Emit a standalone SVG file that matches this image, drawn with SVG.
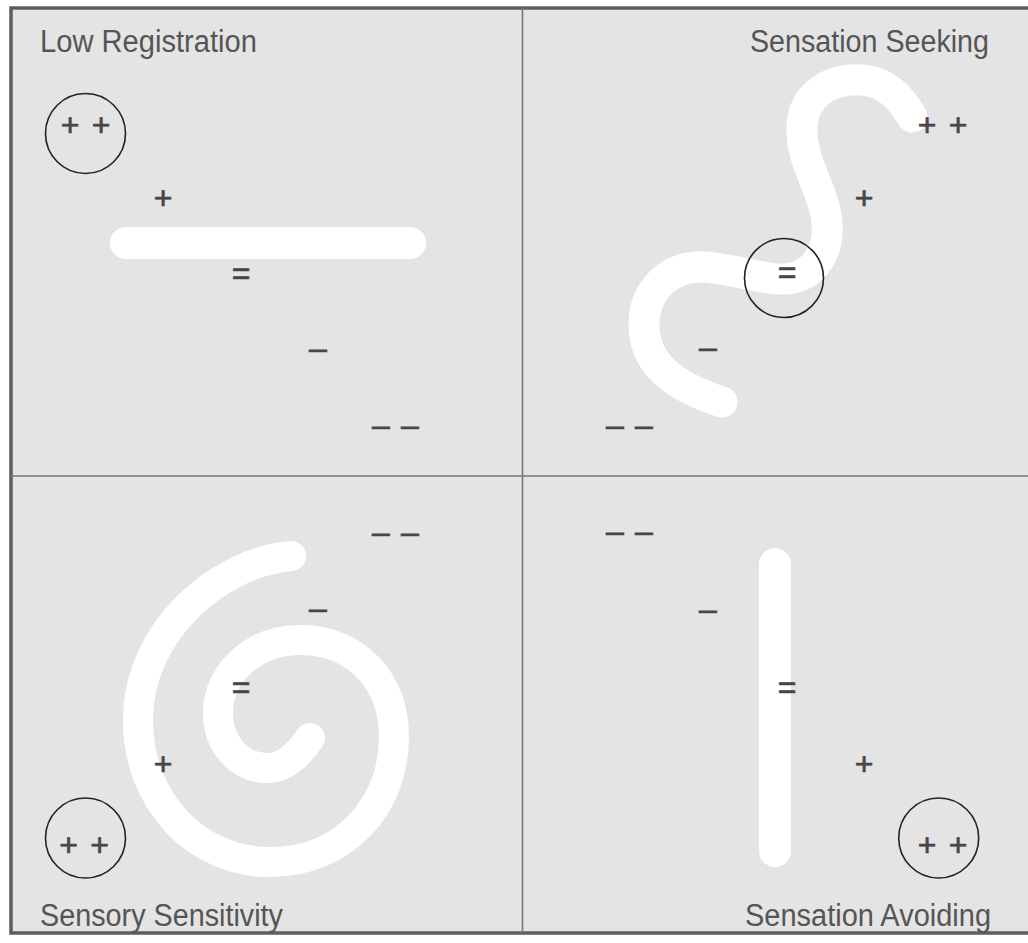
<svg xmlns="http://www.w3.org/2000/svg" width="1028" height="943" viewBox="0 0 1028 943">
  <style>
    .label { font-family: "Liberation Sans", Arial, sans-serif; font-size: 31px; fill: #555; }
    .sym { font-family: "Liberation Sans", Arial, sans-serif; font-size: 32px; fill: #474747; stroke: #474747; stroke-width: 0.7px; text-anchor: middle; }
    .pair { word-spacing: 3.4px; }
    .dpair { word-spacing: 2.3px; }
    .band { fill: none; stroke: #ffffff; stroke-linecap: round; stroke-linejoin: round; }
    .ring { fill: none; stroke: #222; stroke-width: 1.6; }
    .divider { stroke: #777; stroke-width: 1.6; }
  </style>
  <rect x="0" y="0" width="1028" height="943" fill="#ffffff"/>
  <g id="frame">
    <rect x="11" y="8" width="1030" height="925" fill="#e4e4e4" stroke="#5e5e5e" stroke-width="3.5"/>
  </g>
  <g id="connectors">
    <line class="divider" x1="522.5" y1="8" x2="522.5" y2="933"/>
    <line class="divider" x1="11" y1="476" x2="1028" y2="476"/>
  </g>

  <g id="low-registration">
    <text class="label" x="40" y="52" textLength="217" lengthAdjust="spacingAndGlyphs">Low Registration</text>
    <line class="band" x1="126" y1="243" x2="410" y2="243" stroke-width="32"/>
    <circle class="ring" cx="85.5" cy="133.5" r="40"/>
    <text class="sym pair" x="85.5" y="136.3">+ +</text>
    <text class="sym" x="163" y="209.3">+</text>
    <text class="sym" x="241" y="284.2">=</text>
    <text class="sym" x="318" y="358.8">–</text>
    <text class="sym dpair" x="395.5" y="435.8">– –</text>
  </g>

  <g id="sensation-seeking">
    <text class="label" x="750" y="52" textLength="239" lengthAdjust="spacingAndGlyphs">Sensation Seeking</text>
    <path class="band" stroke-width="31" d="M 722 402 C 685 390, 645 370, 644 327 C 643 290, 670 265, 705 267 C 735 269, 760 280, 785 279 C 815 277, 832 250, 826 215 C 821 185, 800 160, 802 125 C 804 95, 830 78, 862 80 C 888 82, 902 100, 912 117"/>
    <circle class="ring" cx="784" cy="278" r="39.5"/>
    <text class="sym pair" x="942.5" y="136.3">+ +</text>
    <text class="sym" x="864" y="209.3">+</text>
    <text class="sym" x="787" y="283.2">=</text>
    <text class="sym" x="708" y="357.8">–</text>
    <text class="sym dpair" x="629.5" y="435.8">– –</text>
  </g>

  <g id="sensory-sensitivity">
    <text class="label" x="40" y="926" textLength="243" lengthAdjust="spacingAndGlyphs">Sensory Sensitivity</text>
    <path class="band" stroke-width="30" d="M 291 556 C 220 562, 138 630, 138 720 C 138 800, 195 862, 270 862 C 345 862, 394 805, 394 737 C 394 680, 355 640, 300 640 C 255 640, 218 672, 218 713 C 218 745, 240 768, 267 768 C 285 768, 298 755, 310 738"/>
    <circle class="ring" cx="85.5" cy="838" r="40"/>
    <text class="sym pair" x="84" y="856.3">+ +</text>
    <text class="sym" x="163" y="775.3">+</text>
    <text class="sym" x="241" y="698.2">=</text>
    <text class="sym" x="318" y="618.8">–</text>
    <text class="sym dpair" x="395.5" y="542.8">– –</text>
  </g>

  <g id="sensation-avoiding">
    <text class="label" x="745" y="926" textLength="246" lengthAdjust="spacingAndGlyphs">Sensation Avoiding</text>
    <line class="band" x1="775" y1="564" x2="775" y2="851" stroke-width="32"/>
    <circle class="ring" cx="938.7" cy="838" r="40"/>
    <text class="sym pair" x="942.5" y="855.8">+ +</text>
    <text class="sym" x="864" y="775.3">+</text>
    <text class="sym" x="787" y="698.2">=</text>
    <text class="sym" x="708" y="619.8">–</text>
    <text class="sym dpair" x="629.5" y="541.8">– –</text>
  </g>
</svg>
